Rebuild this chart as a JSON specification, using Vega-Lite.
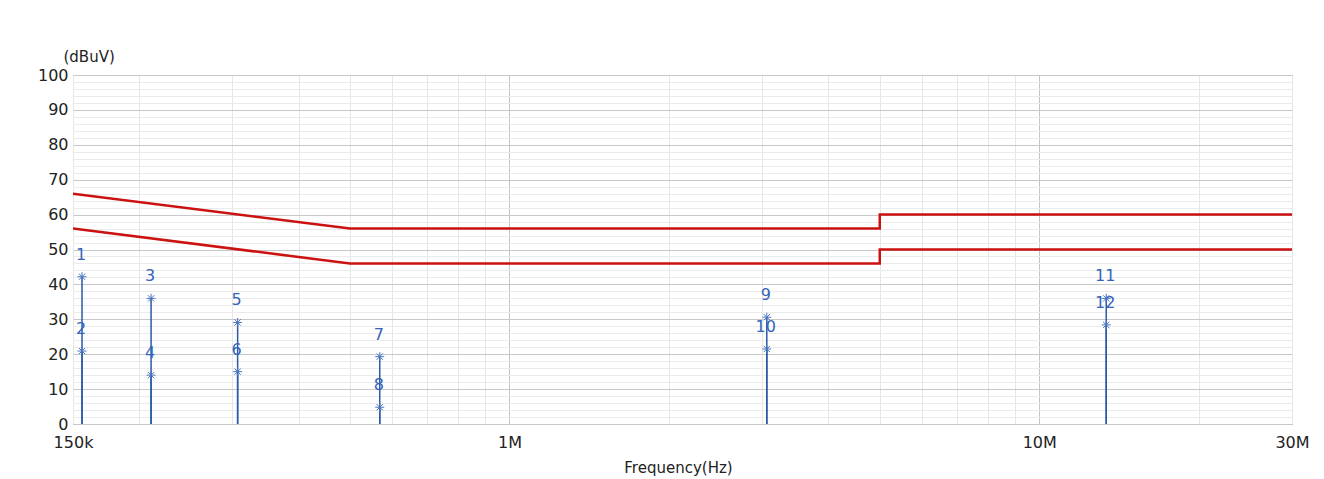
{
  "$schema": "https://vega.github.io/schema/vega-lite/v6.json",
  "autosize": "none",
  "width": 1219,
  "height": 349,
  "padding": {"left": 73, "top": 75, "right": 32, "bottom": 55},
  "background": "white",
  "config": {
    "font": "DejaVu Sans",
    "view": {"stroke": "#8a8a8a", "strokeWidth": 1}
  },
  "datasets": {
    "limits": [
      {"s": "QP", "o": 1, "f": 150000, "v": 66},
      {"s": "QP", "o": 2, "f": 500000, "v": 56},
      {"s": "QP", "o": 3, "f": 5000000, "v": 56},
      {"s": "QP", "o": 4, "f": 5000000, "v": 60},
      {"s": "QP", "o": 5, "f": 30000000, "v": 60},
      {"s": "AV", "o": 1, "f": 150000, "v": 56},
      {"s": "AV", "o": 2, "f": 500000, "v": 46},
      {"s": "AV", "o": 3, "f": 5000000, "v": 46},
      {"s": "AV", "o": 4, "f": 5000000, "v": 50},
      {"s": "AV", "o": 5, "f": 30000000, "v": 50}
    ],
    "markers": [
      {"id": "1", "f": 156000, "v": 42.2},
      {"id": "2", "f": 156000, "v": 20.9},
      {"id": "3", "f": 210600, "v": 36.0},
      {"id": "4", "f": 210600, "v": 14.0},
      {"id": "5", "f": 306800, "v": 29.1},
      {"id": "6", "f": 306800, "v": 15.0},
      {"id": "7", "f": 569000, "v": 19.3},
      {"id": "8", "f": 569000, "v": 4.8},
      {"id": "9", "f": 3060000, "v": 30.6},
      {"id": "10", "f": 3060000, "v": 21.5},
      {"id": "11", "f": 13380000, "v": 36.0},
      {"id": "12", "f": 13380000, "v": 28.4}
    ]
  },
  "layer": [
    {
      "data": {"name": "limits"},
      "mark": {"type": "line", "color": "#cc1111", "strokeWidth": 2.5, "clip": true},
      "encoding": {
        "x": {
          "field": "f", "type": "quantitative",
          "scale": {"type": "log", "domain": [150000, 30000000], "nice": false},
          "axis": {
            "values": [150000, 200000, 300000, 400000, 500000, 600000, 700000, 800000, 900000, 1000000, 2000000, 3000000, 4000000, 5000000, 6000000, 7000000, 8000000, 9000000, 10000000, 20000000, 30000000],
            "tickCount": 200,
            "labelExpr": "datum.value == 150000 ? '150k' : datum.value == 1000000 ? '1M' : datum.value == 10000000 ? '10M' : datum.value == 30000000 ? '30M' : ''",
            "labelFontSize": 16, "labelColor": "#222", "labelPadding": 10, "labelFlush": false, "labelOverlap": false,
            "ticks": false, "domain": false,
            "grid": true,
            "gridColor": {"condition": {"test": "datum.value == 1000000 || datum.value == 10000000", "value": "#c4c4c4"}, "value": "#e6e6e6"},
            "title": "Frequency(Hz)", "titleFontSize": 15, "titleFontWeight": "normal", "titleColor": "#222",
            "titleBaseline": "middle", "titleY": 43, "titleX": 605
          }
        },
        "y": {
          "field": "v", "type": "quantitative",
          "scale": {"domain": [0, 100], "nice": false},
          "axis": {
            "values": [0,2,4,6,8,10,12,14,16,18,20,22,24,26,28,30,32,34,36,38,40,42,44,46,48,50,52,54,56,58,60,62,64,66,68,70,72,74,76,78,80,82,84,86,88,90,92,94,96,98,100],
            "tickCount": 200,
            "labelExpr": "datum.value % 10 == 0 ? format(datum.value, 'd') : ''",
            "labelFontSize": 16, "labelColor": "#222", "labelPadding": 5, "labelOverlap": false,
            "ticks": false, "domain": false,
            "grid": true,
            "gridColor": {"condition": {"test": "datum.value % 10 == 0", "value": "#c8c8c8"}, "value": "#ebebeb"},
            "title": "(dBuV)", "titleAngle": 0, "titleAlign": "left", "titleBaseline": "middle",
            "titleX": -10, "titleY": -19, "titleFontSize": 15, "titleFontWeight": "normal", "titleColor": "#222"
          }
        },
        "detail": {"field": "s"},
        "order": {"field": "o"}
      }
    },
    {
      "data": {"name": "markers"},
      "mark": {"type": "rule", "color": "#2a5aa8", "strokeWidth": 1.5},
      "encoding": {
        "x": {"field": "f", "type": "quantitative"},
        "y": {"field": "v", "type": "quantitative"},
        "y2": {"datum": 0}
      }
    },
    {
      "data": {"name": "markers"},
      "mark": {"type": "point", "shape": "M-1,0L1,0M0,-1L0,1M-0.7,-0.7L0.7,0.7M-0.7,0.7L0.7,-0.7", "filled": false, "stroke": "#4a74c0", "strokeWidth": 1, "size": 80, "opacity": 1},
      "encoding": {
        "x": {"field": "f", "type": "quantitative"},
        "y": {"field": "v", "type": "quantitative"}
      }
    },
    {
      "data": {"name": "markers"},
      "mark": {"type": "text", "color": "#3563b8", "fontSize": 16, "baseline": "middle", "align": "center", "dy": -22, "dx": -1},
      "encoding": {
        "x": {"field": "f", "type": "quantitative"},
        "y": {"field": "v", "type": "quantitative"},
        "text": {"field": "id"}
      }
    }
  ]
}
